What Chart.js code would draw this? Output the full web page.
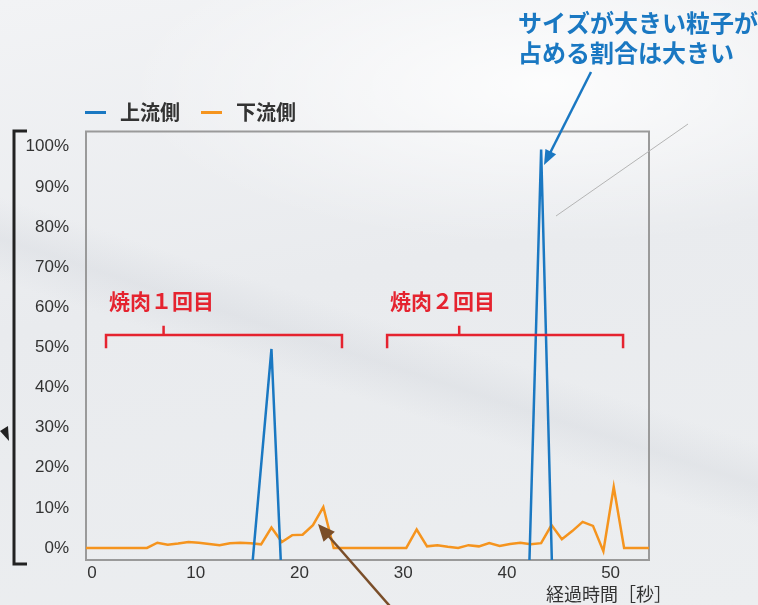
<!DOCTYPE html>
<html>
<head>
<meta charset="utf-8">
<script src="https://cdn.jsdelivr.net/npm/chart.js@4.4.1/dist/chart.umd.min.js"></script>
<style>
html, body { margin: 0; padding: 0; }
body {
    width: 758px; height: 605px; overflow: hidden;
    background:
        radial-gradient(ellipse 420px 160px at 72% 14%, rgba(255,255,255,0.85), rgba(255,255,255,0) 100%),
        linear-gradient(18deg, rgba(190,195,204,0) 38%, rgba(190,195,204,0.2) 43%, rgba(190,195,204,0) 48%),
        linear-gradient(170deg, #f2f3f5 0%, #e9ebee 45%, #eceef0 100%);
}
canvas { display: block; }
</style>
</head>
<body>
<canvas id="grafico" width="758" height="605"></canvas>
<script>
// tiempo de muestreo [秒]
var tiempos = [-0.7, 0.3, 1.3, 2.3, 3.3, 4.3, 5.3, 6.3, 7.3, 8.3, 9.3, 10.3, 11.3, 12.3,
    13.3, 14.3, 15.3, 16.3, 17.3, 18.3, 19.3, 20.3, 21.3, 22.3, 23.3, 24.3, 25.3, 26.3,
    27.3, 28.3, 29.3, 30.3, 31.3, 32.3, 33.3, 34.3, 35.3, 36.3, 37.3, 38.3, 39.3, 40.3,
    41.3, 42.3, 43.3, 44.3, 45.3, 46.3, 47.3, 48.3, 49.3, 50.3, 51.3, 52.3, 53.3, 54.3];
// 下流側 (%)
var abajo = [0, 0, 0, 0, 0, 0, 0, 1.3, 0.8, 1.1, 1.5, 1.3, 1.0, 0.7,
    1.2, 1.3, 1.2, 0.9, 5.1, 1.5, 3.2, 3.3, 5.7, 10.2, 0, 0, 0, 0,
    0, 0, 0, 0, 4.6, 0.4, 0.7, 0.3, 0, 0.7, 0.4, 1.2, 0.5, 1.0,
    1.3, 0.9, 1.2, 5.7, 2.2, 4.2, 6.5, 5.5, -0.8, 15.2, 0, 0, 0, 0];
// 上流側 (%) - fuera de los picos queda por debajo del eje
var arribaTiempos = [15.3, 17.3, 18.3, 30, 42.0, 43.3, 44.4];
var arriba = [-8.7, 49.6, -9.1, null, -18.8, 99.3, -9.7];

var etiquetas = ['上流側', '下流側'];
var ticksX = [0, 10, 20, 30, 40, 50];
var ticksY = [0, 10, 20, 30, 40, 50, 60, 70, 80, 90, 100];

var azul = '#1a78c2';
var naranja = '#f5941e';
var rojo = '#e5232f';
var cjk = '"Noto Sans CJK JP", "Noto Sans", sans-serif';

var tandas = [
    { texto: '焼肉１回目', desde: 1.35, hasta: 24.1, centro: 6.9 },
    { texto: '焼肉２回目', desde: 28.45, hasta: 51.2, centro: 35.4 }
];

function puntos(xs, ys) {
    var out = [];
    for (var i = 0; i < xs.length; i++) out.push({ x: xs[i], y: ys[i] });
    return out;
}

function flecha(ctx, x1, y1, x2, y2, color, largo, ancho) {
    var dx = x2 - x1, dy = y2 - y1;
    var d = Math.sqrt(dx * dx + dy * dy);
    var ux = dx / d, uy = dy / d;
    ctx.strokeStyle = color;
    ctx.fillStyle = color;
    ctx.lineWidth = 2.5;
    ctx.beginPath();
    ctx.moveTo(x1, y1);
    ctx.lineTo(x2 - ux * largo * 0.8, y2 - uy * largo * 0.8);
    ctx.stroke();
    ctx.beginPath();
    ctx.moveTo(x2, y2);
    ctx.lineTo(x2 - ux * largo - uy * ancho / 2, y2 - uy * largo + ux * ancho / 2);
    ctx.lineTo(x2 - ux * largo + uy * ancho / 2, y2 - uy * largo - ux * ancho / 2);
    ctx.closePath();
    ctx.fill();
}

var marco = {
    id: 'marco',
    beforeDatasetsDraw: function(chart) {
        var a = chart.chartArea, ctx = chart.ctx;
        ctx.save();
        ctx.strokeStyle = '#9a9a9a';
        ctx.lineWidth = 2;
        ctx.strokeRect(a.left, a.top, a.right - a.left, a.bottom - a.top);
        ctx.restore();
    }
};

var notas = {
    id: 'notas',
    afterDraw: function(chart) {
        var ctx = chart.ctx, sx = chart.scales.x, sy = chart.scales.y;
        ctx.save();

        // leyenda
        ctx.font = 'bold 20px ' + cjk;
        ctx.textBaseline = 'middle';
        var lx = 85;
        chart.data.datasets.forEach(function(ds) {
            ctx.fillStyle = ds.borderColor;
            ctx.fillRect(lx, 111, 21, 3);
            ctx.fillStyle = '#333333';
            ctx.fillText(ds.label, lx + 35, 112.5);
            lx += 35 + ctx.measureText(ds.label).width + 21;
        });

        // corchetes rojos
        ctx.strokeStyle = rojo;
        ctx.fillStyle = rojo;
        ctx.lineWidth = 2.5;
        ctx.font = 'bold 21px ' + cjk;
        tandas.forEach(function(t) {
            var x1 = sx.getPixelForValue(t.desde), x2 = sx.getPixelForValue(t.hasta);
            var xc = sx.getPixelForValue(t.centro);
            var yl = sy.getPixelForValue(53.1), ye = sy.getPixelForValue(49.75), yp = sy.getPixelForValue(55.4);
            ctx.beginPath();
            ctx.moveTo(x1, ye); ctx.lineTo(x1, yl); ctx.lineTo(x2, yl); ctx.lineTo(x2, ye);
            ctx.moveTo(xc, yl); ctx.lineTo(xc, yp);
            ctx.stroke();
            ctx.fillText(t.texto, x1 + 3, sy.getPixelForValue(61.6));
        });

        // texto azul
        ctx.fillStyle = azul;
        ctx.font = 'bold 24px ' + cjk;
        ctx.fillText('サイズが大きい粒子が', 518, 23);
        ctx.fillText('占める割合は大きい', 518, 53);
        flecha(ctx, 591, 72, 544, 165, azul, 15, 12);

        // flecha marron
        flecha(ctx, 395, 612, 318, 524, '#7a4e29', 17, 15);

        // linea gris fina
        ctx.strokeStyle = '#b4b4b4';
        ctx.lineWidth = 1;
        ctx.beginPath();
        ctx.moveTo(556, 216); ctx.lineTo(688, 124);
        ctx.stroke();

        // corchete negro izquierdo
        ctx.strokeStyle = '#222222';
        ctx.lineWidth = 3;
        ctx.beginPath();
        ctx.moveTo(27, 131); ctx.lineTo(14, 131); ctx.lineTo(14, 564); ctx.lineTo(27, 564);
        ctx.stroke();
        ctx.fillStyle = '#222222';
        ctx.beginPath();
        ctx.moveTo(0, 431); ctx.lineTo(8, 426); ctx.lineTo(9, 441); ctx.closePath();
        ctx.fill();

        // titulo del eje x
        ctx.fillStyle = '#333333';
        ctx.font = '18px ' + cjk;
        ctx.fillText('経過時間［秒］', 546, 594);

        ctx.restore();
    }
};

Chart.defaults.font.family = '"Liberation Sans", Arial, sans-serif';

var chart = new Chart(document.getElementById('grafico'), {
    type: 'line',
    data: {
        datasets: [{
            label: etiquetas[0],
            data: puntos(arribaTiempos, arriba),
            borderColor: azul,
            backgroundColor: azul,
            borderWidth: 2.5,
            pointRadius: 0,
            tension: 0,
            spanGaps: false,
            clip: 0
        }, {
            label: etiquetas[1],
            data: puntos(tiempos, abajo),
            borderColor: naranja,
            backgroundColor: naranja,
            borderWidth: 2.5,
            pointRadius: 0,
            tension: 0,
            clip: 0
        }]
    },
    options: {
        responsive: false,
        animation: false,
        layout: { padding: { top: 131.5, right: 109, bottom: 0, left: 0 } },
        plugins: {
            legend: { display: false },
            tooltip: { enabled: false }
        },
        scales: {
            x: {
                type: 'linear',
                min: -0.58,
                max: 53.7,
                grid: { display: false },
                border: { display: false },
                afterBuildTicks: function(s) { s.ticks = ticksX.map(function(v) { return { value: v }; }); },
                afterFit: function(s) { s.height = 45; },
                ticks: { padding: -5, color: '#333333', font: { size: 17 }, maxRotation: 0, autoSkip: false }
            },
            y: {
                min: -3,
                max: 103.8,
                grid: { display: false },
                border: { display: false },
                afterBuildTicks: function(s) { s.ticks = ticksY.map(function(v) { return { value: v }; }); },
                afterFit: function(s) { s.width = 86; },
                ticks: {
                    padding: 9, color: '#333333', font: { size: 17 },
                    callback: function(v) { return v + '%'; }
                }
            }
        }
    },
    plugins: [marco, notas]
});
</script>
</body>
</html>
